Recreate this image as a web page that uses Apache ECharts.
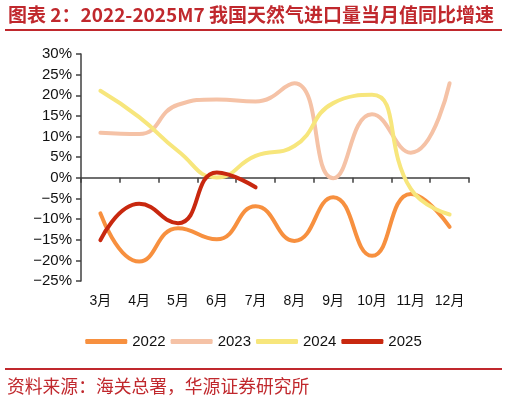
<!DOCTYPE html>
<html lang="zh">
<head>
    <meta charset="UTF-8">
    <title>2022-2025M7 我国天然气进口量当月值同比增速</title>
    <script src="https://cdn.jsdelivr.net/npm/echarts@6/dist/echarts.min.js"></script>
    <style>
        html, body { margin: 0; padding: 0; background: #fff; }
    </style>
</head>
<body>
    <div id="chart" style="width: 507px; height: 402px;"></div>

    <script>
        var meses = ['3月', '4月', '5月', '6月', '7月', '8月', '9月', '10月', '11月', '12月'];
        var anos = ['2022', '2023', '2024', '2025'];
        var cores = ['#F7903F', '#F5C2A6', '#F7E67C', '#C8280F'];

        // 同比增速 (%)
        var v2022 = [-8.6, -20.3, -12.2, -14.9, -6.9, -15.3, -4.7, -18.9, -3.9, -11.9];
        var v2023 = [10.9, 10.6, 17.7, 19.0, 18.5, 22.9, -0.1, 15.4, 6.1, 22.9];
        var v2024 = [21.1, 14.7, 6.5, 0.1, 5.3, 7.7, 18.1, 20.1, -2.7, -8.9];
        var v2025 = [-15.1, -6.3, -11.0, 1.3, -2.3];

        var yMin = -25, yMax = 30, yStep = 5;

        var fonte = '"Liberation Sans", "Noto Sans CJK SC", sans-serif';
        var vermelho = '#C0282D';

        var chart = echarts.init(document.getElementById('chart'));

        var valores = [v2022, v2023, v2024, v2025];
        var series = anos.map(function (ano, i) {
            return {
                name: ano,
                type: 'line',
                xAxisIndex: 0,
                data: valores[i],
                smooth: 0.5,
                symbol: 'none',
                lineStyle: { width: 4, color: cores[i], cap: 'round' },
                itemStyle: { color: cores[i] },
                z: 2 + i
            };
        });

        chart.setOption({
            animation: false,
            textStyle: { fontFamily: fonte },
            grid: { left: 81, right: 38, top: 54, bottom: 121, containLabel: false },
            legend: {
                data: anos,
                left: 'center',
                top: 329,
                icon: 'roundRect',
                itemWidth: 42,
                itemHeight: 5,
                itemGap: 5,
                textStyle: { fontSize: 15, color: '#111', fontFamily: fonte }
            },
            xAxis: [
                {
                    // rótulos embaixo
                    type: 'category',
                    data: meses,
                    position: 'bottom',
                    boundaryGap: true,
                    axisLine: { show: false, onZero: false },
                    axisTick: { show: false },
                    axisLabel: { fontSize: 14, color: '#111', margin: 13, interval: 0 },
                    splitLine: { show: false }
                },
                {
                    // linha do eixo no zero
                    type: 'category',
                    data: meses,
                    position: 'bottom',
                    boundaryGap: true,
                    axisLine: { show: true, onZero: true, lineStyle: { color: '#404040', width: 1.5 } },
                    axisTick: { show: true, length: 5, lineStyle: { color: '#404040', width: 1.5 } },
                    axisLabel: { show: false },
                    splitLine: { show: false }
                }
            ],
            yAxis: {
                type: 'value',
                min: yMin,
                max: yMax,
                interval: yStep,
                axisLine: { show: true, lineStyle: { color: '#404040', width: 1.5 } },
                axisTick: { show: true, length: 5, lineStyle: { color: '#404040', width: 1.5 } },
                axisLabel: {
                    fontSize: 15,
                    color: '#111',
                    margin: 9,
                    formatter: function (v) { return String(v).replace('-', '\u2212') + '%'; }
                },
                splitLine: { show: false }
            },
            graphic: [
                {
                    type: 'text',
                    left: 8,
                    top: 5,
                    style: {
                        text: '图表 2：2022-2025M7 我国天然气进口量当月值同比增速',
                        fill: vermelho,
                        font: 'bold 19px "Noto Sans CJK SC", sans-serif'
                    }
                },
                {
                    type: 'line',
                    shape: { x1: 5, y1: 30, x2: 502, y2: 30 },
                    style: { stroke: vermelho, lineWidth: 2 }
                },
                {
                    type: 'line',
                    shape: { x1: 5, y1: 369, x2: 502, y2: 369 },
                    style: { stroke: vermelho, lineWidth: 2 }
                },
                {
                    type: 'text',
                    left: 7,
                    top: 377,
                    style: {
                        text: '资料来源：海关总署，华源证券研究所',
                        fill: vermelho,
                        font: '17.8px "Noto Sans CJK SC", sans-serif'
                    }
                }
            ],
            series: series
        });
    </script>
</body>
</html>
